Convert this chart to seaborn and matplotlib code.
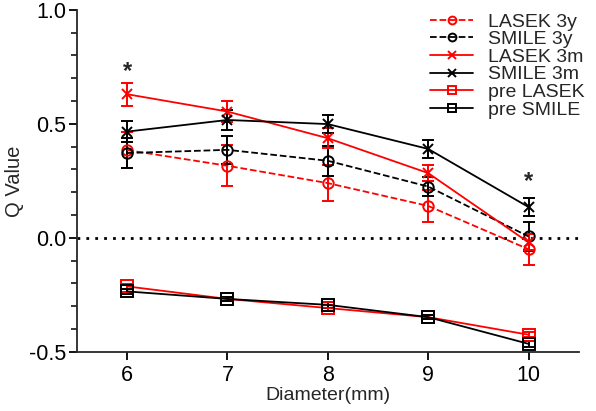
import numpy as np
import pandas as pd
import seaborn as sns
import matplotlib.pyplot as plt
from matplotlib.ticker import MultipleLocator

#%% Data
diameter = [6, 7, 8, 9, 10]

lasek_3y = [0.385, 0.316, 0.240, 0.140, -0.050]
lasek_3y_err = [0.080, 0.090, 0.080, 0.070, 0.068]
smile_3y = [0.372, 0.386, 0.338, 0.225, 0.006]
smile_3y_err = [0.065, 0.060, 0.065, 0.040, 0.065]
lasek_3m = [0.630, 0.554, 0.437, 0.284, -0.020]
lasek_3m_err = [0.050, 0.045, 0.045, 0.035, 0.035]
smile_3m = [0.466, 0.517, 0.499, 0.390, 0.135]
smile_3m_err = [0.045, 0.045, 0.040, 0.040, 0.040]
pre_lasek = [-0.213, -0.268, -0.308, -0.348, -0.425]
pre_lasek_err = [0.012, 0.010, 0.012, 0.010, 0.012]
pre_smile = [-0.235, -0.268, -0.294, -0.348, -0.465]
pre_smile_err = [0.012, 0.010, 0.012, 0.010, 0.012]

star_x = [6, 10]
star_y = [0.73, 0.245]

series = [
    ('LASEK 3y', lasek_3y, lasek_3y_err, 'red', '--', 'o'),
    ('SMILE 3y', smile_3y, smile_3y_err, 'black', '--', 'o'),
    ('LASEK 3m', lasek_3m, lasek_3m_err, 'red', '-', 'x'),
    ('SMILE 3m', smile_3m, smile_3m_err, 'black', '-', 'x'),
    ('pre LASEK', pre_lasek, pre_lasek_err, 'red', '-', 's'),
    ('pre SMILE', pre_smile, pre_smile_err, 'black', '-', 's'),
]

#%% Plot
sns.set_style('ticks')
plt.rcParams['font.family'] = ['Liberation Sans', 'DejaVu Sans']

fig, ax = plt.subplots(figsize=(5.96, 4.11), dpi=100)
fig.subplots_adjust(left=0.129, right=0.971, top=0.976, bottom=0.144)

ax.axhline(0, color='black', ls=(0, (1, 2.2)), lw=2, zorder=1)

for name, y, err, col, ls, mk in series:
    df = pd.DataFrame({'Diameter': diameter, 'Q': y})
    sns.lineplot(data=df, x='Diameter', y='Q', ax=ax, color=col, linestyle=ls,
                 lw=1.3, marker=mk, markersize=8.5 if mk == 's' else 7.5,
                 markerfacecolor='none', markeredgecolor=col, markeredgewidth=1.4,
                 label=name, zorder=3)
    ax.errorbar(diameter, y, yerr=err, fmt='none', ecolor=col, elinewidth=1.4,
                capsize=4.5, capthick=1.4, zorder=2)

for sx, sy in zip(star_x, star_y):
    ax.text(sx, sy, '*', ha='center', va='center', fontsize=17, fontweight='bold')

ax.set_xlim(5.5, 10.5)
ax.set_ylim(-0.5, 1.0)
ax.set_xticks(diameter)
ax.yaxis.set_major_locator(MultipleLocator(0.5))
ax.yaxis.set_minor_locator(MultipleLocator(0.1))
ax.yaxis.set_major_formatter(plt.FormatStrFormatter('%.1f'))
ax.tick_params(axis='both', which='major', labelsize=15.5, length=6, width=1.3, colors='black')
ax.tick_params(axis='y', which='major', pad=1.5)
ax.tick_params(axis='y', which='minor', length=4, width=1.3)
ax.set_xlabel('Diameter(mm)', fontsize=14, labelpad=1)
ax.set_ylabel('Q Value', fontsize=14.5)
ax.yaxis.set_label_coords(-0.106, 0.5)
for s in ['left', 'bottom']:
    ax.spines[s].set_linewidth(1.3)
sns.despine(ax=ax)

ax.legend(loc='upper right', bbox_to_anchor=(1.035, 1.025), frameon=False, fontsize=14,
          handlelength=2.25, labelspacing=0.0, handletextpad=0.75, borderaxespad=0.2,
          markerscale=0.75)

plt.savefig('out.png', dpi=100)
